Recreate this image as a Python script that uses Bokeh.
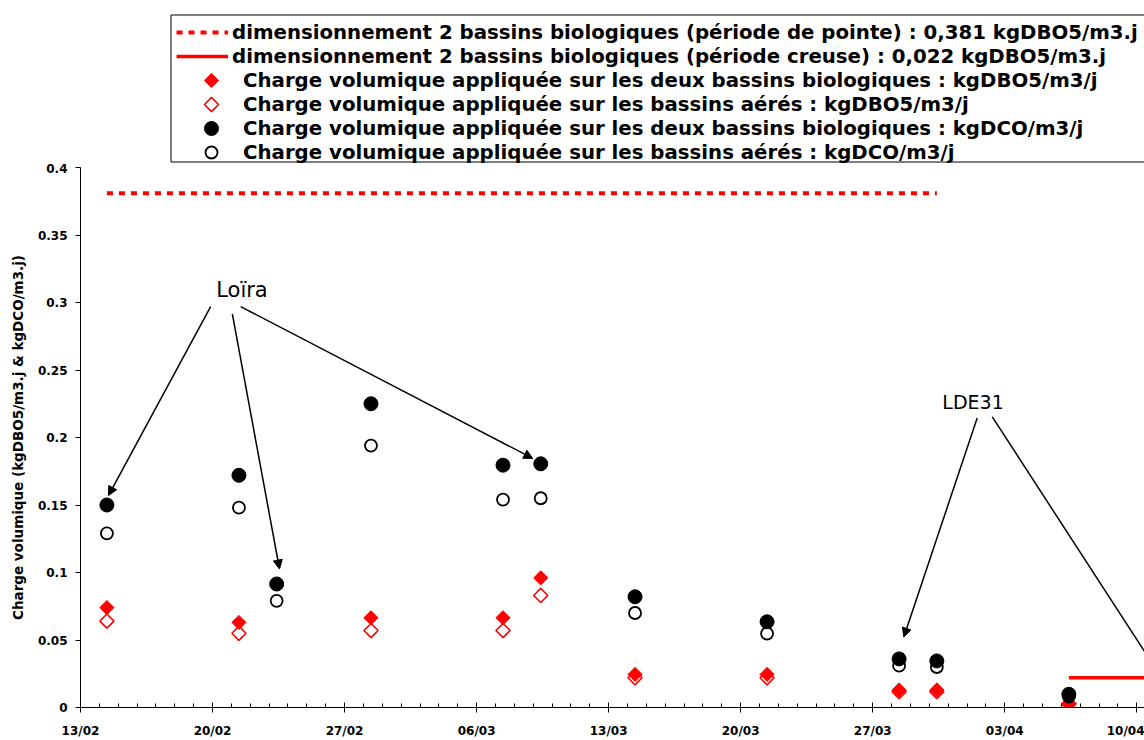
import math
import pandas as pd
from bokeh.plotting import figure
from bokeh.layouts import column
from bokeh.models import Range1d, FixedTicker, Legend, LegendItem, Arrow, NormalHead, Label
from bokeh.embed import file_html
from bokeh.resources import INLINE

# ---------------- data ----------------
ORIGIN = "2007-02-13"
dates = ["2007-02-14", "2007-02-21", "2007-02-23", "2007-02-28", "2007-03-07", "2007-03-09",
         "2007-03-14", "2007-03-21", "2007-03-28", "2007-03-30", "2007-04-06"]
dco_deux = [0.150, 0.172, 0.0915, 0.225, 0.1795, 0.1805, 0.082, 0.0635, 0.036, 0.0345, 0.0098]
dco_aeres = [0.129, 0.148, 0.079, 0.194, 0.154, 0.155, 0.070, 0.0548, 0.031, 0.030, 0.008]
dbo_deux = [0.074, 0.063, float("nan"), 0.0665, 0.0665, 0.096, 0.0245, 0.0245, 0.013, 0.013, 0.003]
dbo_aeres = [0.064, 0.055, float("nan"), 0.057, 0.057, 0.083, 0.022, 0.022, 0.0118, 0.0118, 0.0026]

pointe_dates = ["2007-02-14", "2007-03-30"]
pointe_vals = [0.381, 0.381]
creuse_dates = ["2007-04-06", "2007-04-24"]
creuse_vals = [0.022, 0.022]

x_tick_dates = ["2007-02-13", "2007-02-20", "2007-02-27", "2007-03-06", "2007-03-13",
                "2007-03-20", "2007-03-27", "2007-04-03", "2007-04-10"]
x_tick_labels = ["13/02", "20/02", "27/02", "06/03", "13/03", "20/03", "27/03", "03/04", "10/04"]
y_ticks = [0, 0.05, 0.1, 0.15, 0.2, 0.25, 0.3, 0.35, 0.4]
y_tick_labels = ["0", "0.05", "0.1", "0.15", "0.2", "0.25", "0.3", "0.35", "0.4"]

labels = [
    "dimensionnement 2 bassins biologiques (période de pointe) : 0,381 kgDBO5/m3.j",
    "dimensionnement 2 bassins biologiques (période creuse) : 0,022 kgDBO5/m3.j",
    "Charge volumique appliquée sur les deux bassins biologiques : kgDBO5/m3/j",
    "Charge volumique appliquée sur les bassins aérés : kgDBO5/m3/j",
    "Charge volumique appliquée sur les deux bassins biologiques : kgDCO/m3/j",
    "Charge volumique appliquée sur les bassins aérés : kgDCO/m3/j",
]

# ---------------- helpers ----------------
t0 = pd.Timestamp(ORIGIN)
MID = 0.4  # sampling time within the day


def day(d, mid=0.0):
    return (pd.Timestamp(d) - t0).days + mid


xs = [day(d, MID) for d in dates]
px = [day(d, MID) for d in pointe_dates]
cx = [day(d, MID) for d in creuse_dates]
xt = [day(d) for d in x_tick_dates]

FONT = "DejaVu Sans"

# styles shared by plot and legend
S_POINTE = dict(line_color="red", line_width=4, line_dash="6 6")
S_CREUSE = dict(line_color="red", line_width=3.5)
S_DBO_AER = dict(marker="square", angle=math.pi / 4, size=10, fill_color=None, line_color="red", line_width=1.6)
S_DBO_DEUX = dict(marker="square", angle=math.pi / 4, size=10, fill_color="red", line_color="red", line_width=1)
S_DCO_AER = dict(marker="circle", size=12, fill_color=None, line_color="black", line_width=1.8)
S_DCO_DEUX = dict(marker="circle", size=14, fill_color="black", line_color="black")

# ---------------- legend panel (top) ----------------
LF_H = 163          # panel height (px)
LF_W = 1064         # panel frame width (aligned with the chart frame)
BOX_X = 90          # legend box left, from the frame's left edge
BOX_TOP = 14        # legend box top / bottom, px from panel top
BOX_BOTTOM = 162
ROW0 = 20           # top of the first legend row
ROW = 24            # row pitch
GLYPH_X = 96        # line-sample left edge
GLYPH_W = 52
KEY_X = 131         # marker-sample centre

lf = figure(width=1144, height=LF_H, output_backend="svg", toolbar_location=None,
            x_range=Range1d(0, LF_W), y_range=Range1d(0, LF_H),
            x_axis_type=None, y_axis_type=None,
            min_border_left=0, min_border_right=0, min_border_top=0, min_border_bottom=0)
lf.extra_x_ranges = {"off": Range1d(-200, -199)}
lf.extra_y_ranges = {"off": Range1d(-200, -199)}
lf.outline_line_color = None
lf.xgrid.visible = False
lf.ygrid.visible = False
lf.background_fill_color = "white"
lf.border_fill_color = "white"

# legend frame (continues past the right edge, as in the original)
lf.quad(left=[BOX_X + 0.5], right=[LF_W + 20], top=[LF_H - BOX_TOP - 0.5], bottom=[LF_H - BOX_BOTTOM + 0.5],
        fill_color="white", line_color="black", line_width=1)

OFF = dict(x_range_name="off", y_range_name="off")
HIDDEN = dict(marker="circle", size=1, fill_alpha=0, line_alpha=0)
lr = [lf.line(px, pointe_vals, **OFF, **S_POINTE),
      lf.line(cx, creuse_vals, **OFF, **S_CREUSE),
      lf.scatter(xs, dbo_deux, **OFF, **HIDDEN),
      lf.scatter(xs, dbo_aeres, **OFF, **HIDDEN),
      lf.scatter(xs, dco_deux, **OFF, **HIDDEN),
      lf.scatter(xs, dco_aeres, **OFF, **HIDDEN)]

# marker samples (true diamonds / circles)
for i, style in [(2, S_DBO_DEUX), (3, S_DBO_AER), (4, S_DCO_DEUX), (5, S_DCO_AER)]:
    key_y = LF_H - (ROW0 + ROW * (i + 0.5))
    lf.scatter([KEY_X], [key_y], **style)

LEG_STYLE = dict(orientation="vertical", border_line_alpha=0, background_fill_alpha=0,
                 label_text_font=FONT, label_text_font_style="bold", label_text_font_size="19.75px",
                 label_text_color="black", glyph_width=GLYPH_W, glyph_height=ROW, label_height=ROW,
                 spacing=0, padding=0, margin=0)

leg_lines = Legend(items=[LegendItem(label=l, renderers=[r]) for l, r in zip(labels[:2], lr[:2])],
                   location=(GLYPH_X, LF_H - ROW0 - 2 * ROW), label_standoff=4, **LEG_STYLE)
leg_marks = Legend(items=[LegendItem(label=l, renderers=[r]) for l, r in zip(labels[2:], lr[2:])],
                   location=(GLYPH_X, LF_H - ROW0 - 6 * ROW), label_standoff=15, **LEG_STYLE)
lf.add_layout(leg_lines, "center")
lf.add_layout(leg_marks, "center")

# ---------------- main chart ----------------
p = figure(width=1144, height=740 - LF_H, output_backend="svg", toolbar_location=None,
           x_range=Range1d(0, 56.41), y_range=Range1d(0, 0.4),
           min_border_left=80, min_border_right=0, min_border_top=4, min_border_bottom=31)
p.outline_line_color = None
p.xgrid.visible = False
p.ygrid.visible = False
p.background_fill_color = "white"
p.border_fill_color = "white"

xa = p.xaxis[0]
xa.ticker = FixedTicker(ticks=xt, minor_ticks=list(range(0, 58)))
xa.major_label_overrides = {t: l for t, l in zip(xt, x_tick_labels)}
xa.major_tick_in = 5
xa.major_tick_out = 5
xa.minor_tick_in = 4
xa.minor_tick_out = 0
xa.axis_line_color = "black"
xa.major_tick_line_color = "black"
xa.minor_tick_line_color = "black"
xa.major_label_text_font = FONT
xa.major_label_text_font_style = "bold"
xa.major_label_text_font_size = "12px"
xa.major_label_text_color = "black"
xa.major_label_standoff = 11

ya = p.yaxis[0]
ya.ticker = FixedTicker(ticks=y_ticks, minor_ticks=[])
ya.major_label_overrides = {t: l for t, l in zip(y_ticks, y_tick_labels)}
ya.major_tick_in = 0
ya.major_tick_out = 5
ya.minor_tick_in = 0
ya.minor_tick_out = 0
ya.axis_line_color = "black"
ya.major_tick_line_color = "black"
ya.major_label_text_font = FONT
ya.major_label_text_font_style = "bold"
ya.major_label_text_font_size = "12px"
ya.major_label_text_color = "black"
ya.major_label_standoff = 8
ya.axis_label = "Charge volumique (kgDBO5/m3.j & kgDCO/m3.j)"
ya.axis_label_text_font = FONT
ya.axis_label_text_font_style = "bold"
ya.axis_label_text_font_size = "13.5px"
ya.axis_label_text_color = "black"
ya.axis_label_standoff = 9

p.line(px, pointe_vals, **S_POINTE)
p.line(cx, creuse_vals, **S_CREUSE)
p.scatter(xs, dbo_aeres, **S_DBO_AER)
p.scatter(xs, dbo_deux, **S_DBO_DEUX)
p.scatter(xs, dco_aeres, **S_DCO_AER)
p.scatter(xs, dco_deux, **S_DCO_DEUX)

# annotations
p.add_layout(Label(x=8.56, y=0.3092, text="Loïra", text_align="center", text_baseline="middle",
                   text_font=FONT, text_font_size="21px", text_color="black"))
p.add_layout(Label(x=47.32, y=0.2262, text="LDE31", text_align="center", text_baseline="middle",
                   text_font=FONT, text_font_size="19px", text_color="black"))

arrows = [
    (6.90, 0.297, 1.48, 0.157),
    (8.05, 0.2915, 10.55, 0.1026),
    (8.49, 0.297, 23.98, 0.1845),
    (47.54, 0.2145, 43.65, 0.0522),
    (48.34, 0.2153, 57.69, 0.014),
]
for xs0, ys0, xe, ye in arrows:
    p.add_layout(Arrow(x_start=xs0, y_start=ys0, x_end=xe, y_end=ye,
                       line_color="black", line_width=1.5,
                       end=NormalHead(size=9, fill_color="black", line_color="black", line_width=1)))

layout = column(lf, p, spacing=0)
open("out.html", "w").write(file_html(layout, INLINE))
